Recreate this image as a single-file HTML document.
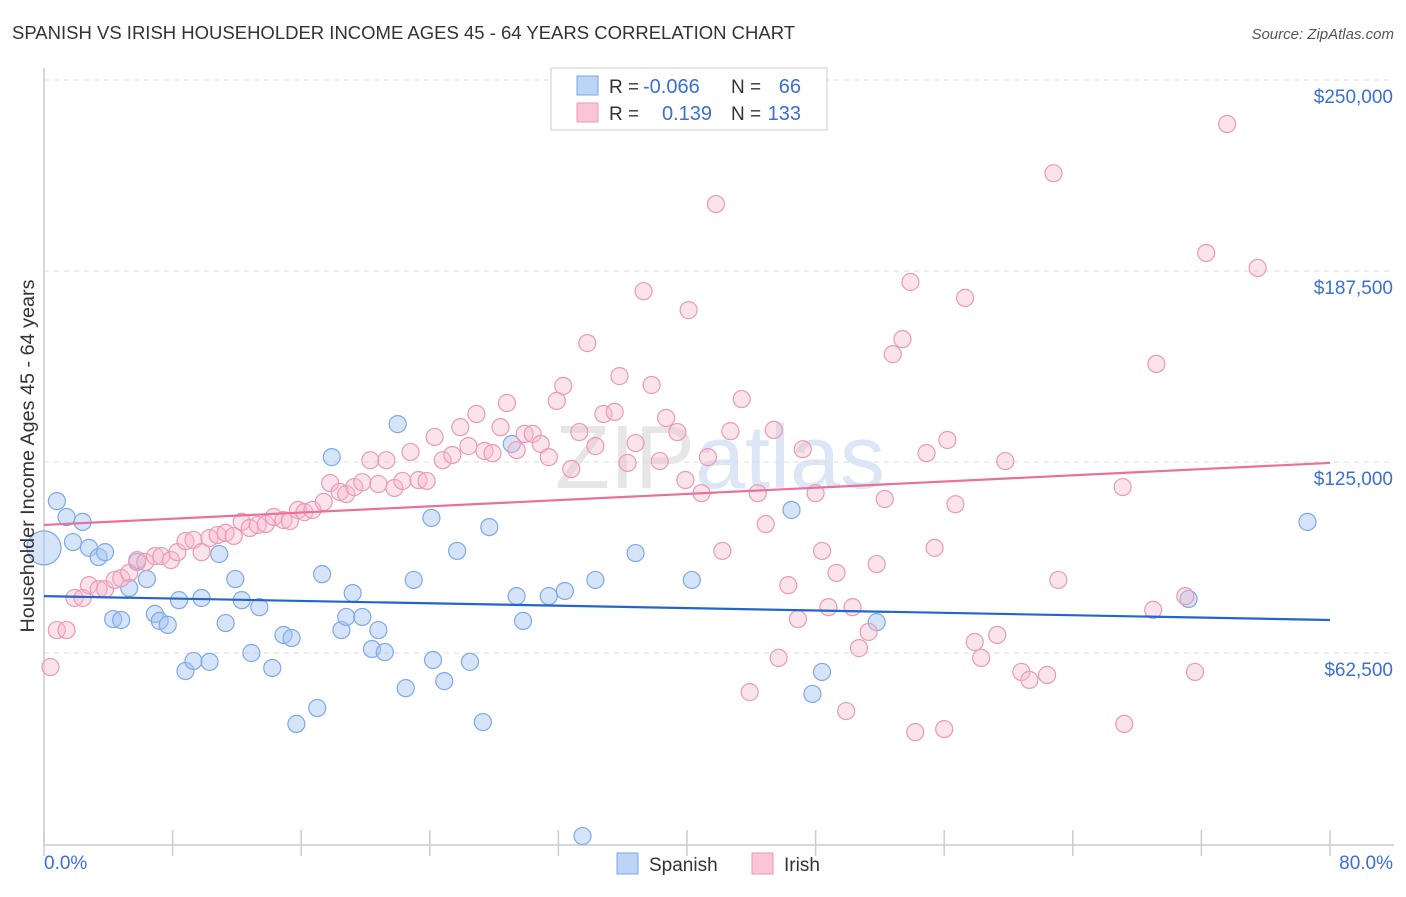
<!DOCTYPE html>
<html><head><meta charset="utf-8"><style>
body{margin:0;background:#fff;font-family:"Liberation Sans",sans-serif;}
svg text{font-family:"Liberation Sans",sans-serif;}
</style></head><body>
<svg id="chart" width="1406" height="892" xmlns="http://www.w3.org/2000/svg">
<text x="12" y="39" font-size="18.5" fill="#333">SPANISH VS IRISH HOUSEHOLDER INCOME AGES 45 - 64 YEARS CORRELATION CHART</text>
<text x="1394" y="39" font-size="15" fill="#555" text-anchor="end" font-style="italic">Source: ZipAtlas.com</text>
<text x="720" y="488" font-size="90" text-anchor="middle" fill="#e4e8ee" font-family="Liberation Serif"><tspan fill="#e6e6e6">ZIP</tspan><tspan fill="#dce6f6" font-family="Liberation Sans">atlas</tspan></text>
<g id="grid"></g>
<g id="axes"></g>
<g id="marks"></g>
<g id="lines"></g>
<text transform="translate(34,456) rotate(-90)" font-size="19.8" fill="#333" text-anchor="middle">Householder Income Ages 45 - 64 years</text>
<g>
<rect x="551" y="68" width="276" height="62" fill="#fff" stroke="#ddd" stroke-width="1.5"/>
<rect x="577" y="76" width="21" height="19" fill="#bcd4f6" stroke="#7aa6e8"/>
<rect x="577" y="103" width="21" height="19" fill="#f9c6d6" stroke="#eb98b4"/>
<text x="609" y="93" font-size="19" fill="#333">R =</text>
<text x="643" y="93" font-size="20" fill="#3a6fd8">-0.066</text>
<text x="731" y="93" font-size="19" fill="#333">N =</text>
<text x="801" y="93" font-size="20" fill="#3a6fd8" text-anchor="end">66</text>
<text x="609" y="120" font-size="19" fill="#333">R =</text>
<text x="712" y="120" font-size="20" fill="#3a6fd8" text-anchor="end">0.139</text>
<text x="731" y="120" font-size="19" fill="#333">N =</text>
<text x="801" y="120" font-size="20" fill="#3a6fd8" text-anchor="end">133</text>
</g>
<g>
<rect x="617" y="853" width="21" height="21" fill="#bcd4f6" stroke="#7aa6e8"/>
<text x="649" y="871" font-size="19" fill="#333">Spanish</text>
<rect x="752" y="853" width="21" height="21" fill="#f9c6d6" stroke="#eb98b4"/>
<text x="784" y="871" font-size="19" fill="#333">Irish</text>
</g>
</svg>
<script>
const yTicks=[62500,125000,187500,250000];
const yTickLabels=["$62,500","$125,000","$187,500","$250,000"];
const xTickLabels=["0.0%","80.0%"];
const spanishX=[0,0.8,1.4,2.4,1.8,2.8,3.4,3.8,5.3,5.8,6.4,4.3,4.8,6.9,7.2,7.7,8.4,8.8,9.3,9.8,10.3,10.9,11.3,11.9,12.3,12.9,13.4,14.2,14.9,15.4,15.7,17.0,17.3,17.9,18.5,18.8,19.2,19.8,20.4,20.8,21.2,22.0,22.5,23.0,24.1,24.2,24.9,25.7,26.5,27.3,27.7,29.1,29.4,29.8,31.4,32.4,33.5,34.3,36.8,40.3,46.5,47.8,48.4,51.8,71.2,78.6];
const spanishY=[96.9,112.2,107.0,105.4,98.8,96.9,93.9,95.5,83.8,92.3,86.7,73.6,73.3,75.3,73.0,71.7,79.8,56.6,59.9,80.5,59.6,94.9,72.3,86.7,79.8,62.5,77.5,57.6,68.4,67.4,39.3,44.5,88.3,126.6,70.0,74.3,82.1,74.3,63.8,70.0,62.8,137.4,51.0,86.4,106.7,60.2,53.3,95.9,59.6,39.9,103.7,130.9,81.1,73.0,81.1,82.8,2.6,86.4,95.2,86.4,109.3,49.1,56.3,72.6,80.2,105.4];
const irishX=[0.4,0.8,1.4,1.9,2.4,2.8,3.4,3.8,4.4,4.8,5.3,5.8,6.3,6.9,7.3,7.9,8.3,8.8,9.3,9.8,10.3,10.8,11.3,11.8,12.3,12.8,13.3,13.8,14.3,14.9,15.3,15.8,16.2,16.7,17.4,17.8,18.4,18.8,19.3,19.8,20.3,20.8,21.3,21.8,22.3,22.8,23.3,23.8,24.3,24.8,25.4,25.9,26.4,26.9,27.4,27.9,28.4,28.8,29.4,29.9,30.4,30.9,31.4,31.9,32.3,32.8,33.3,33.8,34.3,34.8,35.5,35.8,36.3,36.8,37.3,37.8,38.3,38.7,39.4,40.1,39.9,40.9,41.3,41.8,42.2,42.7,43.4,43.9,44.4,44.9,45.4,45.7,46.3,46.9,47.2,48.0,48.4,48.8,49.3,49.9,50.3,50.7,51.3,51.8,52.3,52.8,53.4,53.9,54.9,55.4,54.2,56.0,56.2,56.7,57.3,57.9,58.3,59.3,59.8,60.8,61.3,62.4,62.8,63.1,67.1,67.2,69.0,69.2,71.0,71.6,72.3,73.6,75.5];
const irishY=[57.9,70.0,70.0,80.5,80.5,84.7,83.4,83.4,86.4,87.0,88.7,92.9,92.3,94.2,94.2,92.9,95.5,99.1,99.5,95.5,100.1,101.1,101.8,100.8,105.4,103.4,104.4,104.7,107.0,106.0,105.7,109.3,108.6,109.3,111.9,118.1,115.2,114.5,116.8,118.4,125.6,117.8,125.6,116.5,118.8,128.3,119.1,118.8,133.2,125.6,127.3,136.4,130.2,140.7,128.6,127.9,136.4,144.3,128.9,134.2,134.2,130.9,126.6,145.0,149.9,122.7,134.8,163.9,130.2,140.7,141.4,153.1,124.7,131.2,180.9,150.2,125.3,139.4,134.8,174.7,119.1,114.8,126.6,209.4,95.9,135.1,145.6,49.7,114.8,104.7,135.5,60.9,84.7,73.6,129.2,114.8,95.9,77.5,88.7,43.5,77.5,64.1,69.4,91.6,112.9,160.3,165.2,183.9,127.9,96.9,36.6,37.6,132.2,111.2,178.7,66.1,60.9,68.4,125.3,56.3,53.7,55.3,219.5,86.4,116.8,39.3,76.6,157.1,81.1,56.3,193.4,235.6,188.5];
const spanishTrend=[81.1,73.3];
const irishTrend=[104.4,124.7];

const NS="http://www.w3.org/2000/svg";
const X0=44,X1=1330,Y0=844,PXK=191/62.5;
function sx(p){return X0+(X1-X0)*p/80;}
function sy(k){return Y0-k*PXK;}
function mk(t,a,parent){const e=document.createElementNS(NS,t);for(const k in a)e.setAttribute(k,a[k]);parent.appendChild(e);return e;}
const grid=document.getElementById('grid'),axes=document.getElementById('axes'),marks=document.getElementById('marks'),lines=document.getElementById('lines');
yTicks.forEach((v,i)=>{
 const y=sy(v/1000);
 const g=mk('line',{x1:X0,x2:1394,y1:y,y2:y,stroke:'#ddd','stroke-dasharray':'5,5'},grid);
 
 
 const t=mk('text',{x:1393,y:y+23,'font-size':19,fill:'#3a6fd8','text-anchor':'end'},axes);
 t.textContent=yTickLabels[i];
 
 
});
const ya=mk('line',{x1:X0,x2:X0,y1:68,y2:845,stroke:'#ccc','stroke-width':1.5},axes);


const xa=mk('line',{x1:X0,x2:1394,y1:845,y2:845,stroke:'#ccc','stroke-width':1.5},axes);


for(let i=0;i<=10;i++){const x=sx(i*8);
 const tk=mk('line',{x1:x,x2:x,y1:830,y2:856,stroke:'#ccc','stroke-width':1.5},axes);
 
 }
const xl0=mk('text',{x:44,y:869,'font-size':19,fill:'#3a6fd8'},axes);xl0.textContent=xTickLabels[0];


const xl1=mk('text',{x:1393,y:869,'font-size':19,fill:'#3a6fd8','text-anchor':'end'},axes);xl1.textContent=xTickLabels[1];


spanishX.forEach((p,i)=>{
 const c=mk('circle',{cx:sx(p),cy:sy(spanishY[i]),r:i===0?17:8.5,fill:'rgba(165,195,242,0.45)',stroke:'#7fa9e6','stroke-width':1.2},marks);
 
 
});
irishX.forEach((p,i)=>{
 const c=mk('circle',{cx:sx(p),cy:sy(irishY[i]),r:8.5,fill:'rgba(246,185,205,0.4)',stroke:'#eb9ab6','stroke-width':1.2},marks);
 
 
});
const l1=mk('line',{x1:sx(0),x2:sx(80),y1:sy(spanishTrend[0]),y2:sy(spanishTrend[1]),stroke:'#2266cc','stroke-width':2.2},lines);


const l2=mk('line',{x1:sx(0),x2:sx(80),y1:sy(irishTrend[0]),y2:sy(irishTrend[1]),stroke:'#e8709a','stroke-width':2.2},lines);


</script>
</body></html>
